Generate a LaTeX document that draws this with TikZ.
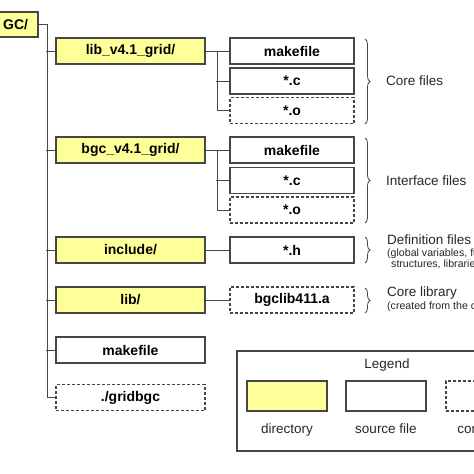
\documentclass[tikz,border=0pt]{standalone}
\usepackage{fontspec}
\setmainfont{Liberation Sans}
\usetikzlibrary{decorations.pathreplacing}
\definecolor{dirfill}{RGB}{255,255,153}
\definecolor{linegray}{RGB}{70,70,70}
\definecolor{txtgray}{RGB}{40,40,40}
\tikzset{
  box/.style={draw=linegray, line width=1.1pt, minimum height=26pt, inner sep=0pt, font=\fontsize{14}{16}\selectfont\bfseries, text=black},
  dirbox/.style={box, fill=dirfill, minimum width=149pt},
  filebox/.style={box, fill=white, minimum width=124pt},
  compbox/.style={filebox, dash pattern=on 3pt off 2pt},
  topfile/.style={box, fill=white, minimum width=149pt},
  topcomp/.style={topfile, dash pattern=on 3pt off 2pt},
  conn/.style={draw=linegray, line width=0.9pt},
  brc/.style={draw=linegray, line width=0.8pt, decorate, decoration={brace, amplitude=5pt}},
  lbl/.style={anchor=west, inner sep=0pt, font=\fontsize{13.5}{15}\selectfont, text=txtgray},
  small/.style={anchor=west, inner sep=0pt, font=\fontsize{10.6}{12}\selectfont, text=txtgray},
}
\begin{document}
\begin{tikzpicture}[x=1pt,y=-1pt]
\useasboundingbox (0,0) rectangle (474,474);
\fill[white] (0,0) rectangle (474,474);
% root
\draw[draw=linegray, line width=1.1pt, fill=dirfill] (-20,12) rectangle (38,37);
\node[inner sep=0pt, anchor=west, font=\fontsize{14}{16}\selectfont\bfseries] (gc) at (3,24.5) {GC/};
\coordinate (gce) at (38,24.5);
% top level
\node[dirbox] (lib) at (130.5,51) {lib\_v4.1\_grid/};
\node[dirbox] (bgc) at (130.5,150) {bgc\_v4.1\_grid/};
\node[dirbox] (inc) at (130.5,250) {include/};
\node[dirbox] (libd) at (130.5,300) {lib/};
\node[topfile] (mk) at (130.5,350) {makefile};
\node[topcomp] (grid) at (130.5,397.5) {./gridbgc};
% children
\node[filebox] (lmk) at (292,51) {makefile};
\node[filebox] (lc) at (292,81) {*.c};
\node[compbox] (lo) at (292,110.5) {*.o};
\node[filebox] (bmk) at (292,150) {makefile};
\node[filebox] (bc) at (292,180.5) {*.c};
\node[compbox] (bo) at (292,210) {*.o};
\node[filebox] (ih) at (292,250) {*.h};
\node[compbox] (la) at (292,300) {bgclib411.a};
% trunk
\draw[conn] (gce) -- ++(9,0) |- (grid.west);
\foreach \n in {lib,bgc,inc,libd,mk} \draw[conn] (\n.west) -- ++(-9,0);
% sub trees
\draw[conn] (lib.east) -- ++(12,0) |- (lo.west);
\draw[conn] (lmk.west) -- ++(-13,0);
\draw[conn] (lc.west) -- ++(-13,0);
\draw[conn] (bgc.east) -- ++(12,0) |- (bo.west);
\draw[conn] (bmk.west) -- ++(-13,0);
\draw[conn] (bc.west) -- ++(-13,0);
\draw[conn] (inc.east) -- (ih.west);
\draw[conn] (libd.east) -- (la.west);
% braces
\coordinate (b1t) at (365,39); \coordinate (b1b) at (365,124);
\draw[brc] (b1t) -- (b1b);
\coordinate (b2t) at (365,138); \coordinate (b2b) at (365,223);
\draw[brc] (b2t) -- (b2b);
\coordinate (b3t) at (365,237); \coordinate (b3b) at (365,263);
\draw[brc] (b3t) -- (b3b);
\coordinate (b4t) at (365,288); \coordinate (b4b) at (365,313);
\draw[brc] (b4t) -- (b4b);
\node[lbl] (t1) at (386,81) {Core files};
\node[lbl] (t2) at (386,180.5) {Interface files};
\node[lbl] (t3) at (387,240) {Definition files};
\node[small] (t3a) at (387,254) {(global variables, functions,};
\node[small] (t3b) at (391,264.5) {structures, libraries)};
\node[lbl] (t4) at (387,293) {Core library};
\node[small] (t4a) at (387,307) {(created from the core files)};
% legend
\draw[draw=linegray, line width=1.1pt] (237,351) rectangle (600,451);
\node[lbl, anchor=center] (lg) at (387,365) {Legend};
\node[box, fill=dirfill, minimum width=80pt, minimum height=30pt] (sw1) at (287,396) {};
\node[box, fill=white, minimum width=80pt, minimum height=30pt] (sw2) at (386,396) {};
\node[box, fill=white, minimum width=80pt, minimum height=30pt, dash pattern=on 3pt off 2pt] (sw3) at (486,396) {};
\node[lbl, anchor=center] (l1) at (287,430) {directory};
\node[lbl, anchor=center] (l2) at (386,429) {source file};
\node[lbl, anchor=center] (l3) at (495,430) {compiled file};
\end{tikzpicture}
\end{document}
